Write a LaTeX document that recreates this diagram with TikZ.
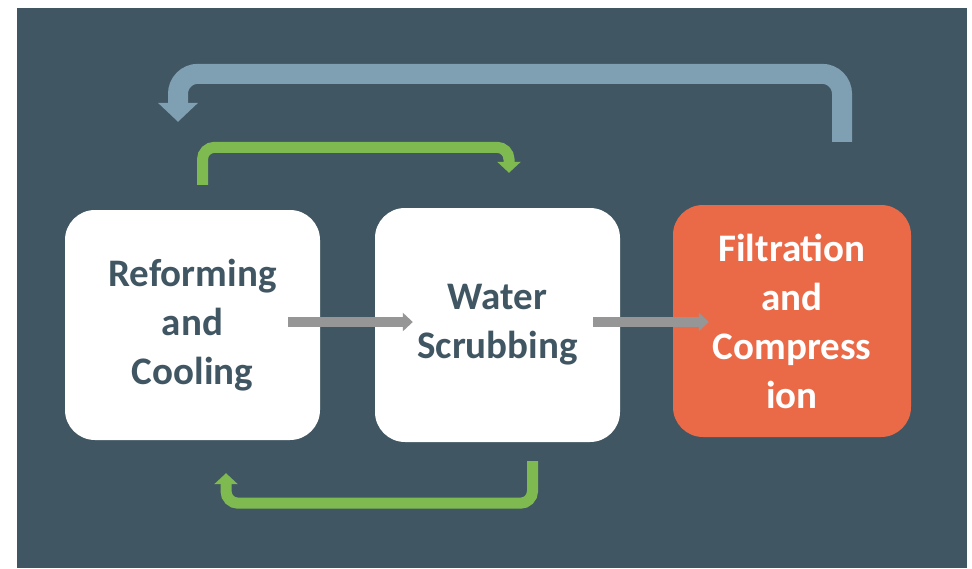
\documentclass[tikz,border=0pt]{standalone}
\usepackage{fontspec}
\setmainfont{Carlito}
\usepackage{xcolor}
\usepackage{tikz}
\usetikzlibrary{calc,arrows.meta}
\definecolor{slateBg}{RGB}{64,86,98}
\definecolor{loopBlue}{RGB}{127,160,178}
\definecolor{loopGreen}{RGB}{127,186,80}
\definecolor{stageOrange}{RGB}{234,106,72}
\definecolor{flowGray}{RGB}{150,150,150}

\begin{document}
\begin{tikzpicture}[x=1pt,y=-1pt,
  stagebox/.style={rounded corners=30pt, inner sep=0pt, align=center,
    font=\fontsize{39}{49}\selectfont\bfseries},
  flow/.style={flowGray, line width=10pt, -{Triangle[width=18pt,length=10pt]}},
  recycle/.style={loopGreen, line width=11pt, rounded corners=12pt,
    -{Triangle[width=23pt,length=11pt]}}]
\useasboundingbox (0,0) rectangle (972,568);
\fill[white] (0,0) rectangle (972,568);
\fill[slateBg] (17,8) rectangle (967,568);
% process stages
\node[stagebox, fill=white, text=slateBg, minimum width=255pt, minimum height=230pt]
  (reform) at (192.5,325) {Reforming\\and\\Cooling};
\node[stagebox, fill=white, text=slateBg, minimum width=245pt, minimum height=234pt]
  (scrub) at (497.5,325) {Water\\Scrubbing};
\node[stagebox, fill=stageOrange, text=white, minimum width=238pt, minimum height=232pt]
  (filt) at (792,321) {Filtration\\and\\Compress\\ion};
% main gas flow
\draw[flow] ($(reform.east)+(-32,-3)$) -- ($(scrub.west)+(38,-3)$);
\draw[flow] ($(scrub.east)+(-27,-3)$) -- ($(filt.west)+(36,1)$);
% loop ends
\coordinate (blueStart) at ($(filt.north)+(50,-63)$);
\coordinate (blueEnd) at ($(reform.north)+(-14.5,-88)$);
\coordinate (topStart) at ($(reform.north)+(10,-25)$);
\coordinate (topEnd) at ($(scrub.north)+(11.5,-35)$);
\coordinate (botStart) at ($(scrub.south)+(35,19)$);
\coordinate (botEnd) at ($(reform.south)+(33.5,33)$);
% recycle loops
\draw[loopBlue, line width=20pt, rounded corners=20pt,
  -{Triangle[width=39pt,length=19pt]}] (blueStart) -- ++(0,-68) -| (blueEnd);
\draw[recycle] (topStart) -- ++(0,-37.5) -| (topEnd);
\draw[recycle] (botStart) -- ++(0,42) -| (botEnd);
\end{tikzpicture}
\end{document}
